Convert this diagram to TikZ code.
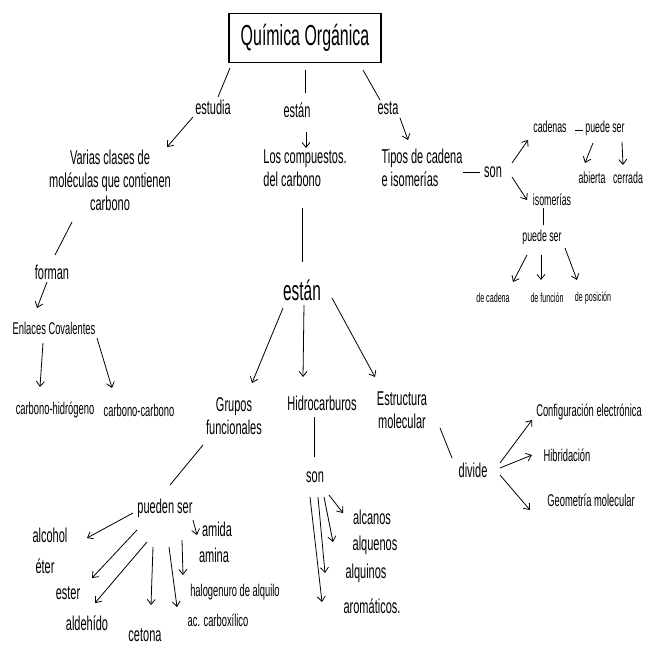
\documentclass[tikz,border=0pt]{standalone}
\usepackage{fontspec}
\setmainfont[FakeStretch=0.55]{Liberation Sans}
\usetikzlibrary{arrows.meta,calc}
\tikzset{
  lab/.style={inner sep=1pt, align=center, font=\fontsize{20}{23}\selectfont},
  sml/.style={inner sep=1pt, align=center, font=\fontsize{16}{18}\selectfont},
  tny/.style={inner sep=1pt, align=center, font=\fontsize{13}{15}\selectfont},
  mid/.style={inner sep=1pt, align=center, font=\fontsize{17}{20}\selectfont},
  big/.style={inner sep=1pt, font=\fontsize{28}{32}\selectfont},
  ttl/.style={draw, line width=1.1pt, minimum width=152pt, minimum height=49pt, inner sep=0pt, font=\fontsize{29}{33}\selectfont},
  ln/.style={line width=0.8pt},
  arr/.style={line width=0.8pt, -{Straight Barb[length=5pt,width=8pt]}}
}
\begin{document}
\begin{tikzpicture}[x=1pt,y=-1pt]
\useasboundingbox[fill=white] (0,0) rectangle (648,647);
% nodes
\node[ttl] (title) at (305,38) {Química Orgánica};
\node[lab] (estudia) at (213,107) {estudia};
\node[lab] (varias) at (110,180) {Varias clases de\\moléculas que contienen\\carbono};
\node[lab] (estan1) at (297,110) {están};
\node[lab, align=left] (comp) at (305,168) {Los compuestos.\\del carbono};
\node[lab] (esta) at (388,108) {esta};
\node[lab, align=left] (tipos) at (422,168) {Tipos de cadena\\e isomerías};
\node[lab] (son1) at (493,172) {son};
\node[sml] (cadenas) at (550,127) {cadenas};
\node[sml] (puede1) at (605,128) {puede ser};
\node[sml] (abierta) at (592,178) {abierta};
\node[sml] (cerrada) at (628,178) {cerrada};
\node[sml] (isomerias) at (552,200) {isomerías};
\node[sml] (puede2) at (542,237) {puede ser};
\node[tny] (decadena) at (493,298) {de cadena};
\node[tny] (defuncion) at (547,298) {de función};
\node[tny] (deposicion) at (593,298) {de posición};
\node[lab] (forman) at (52,272) {forman};
\node[mid] (enlaces) at (54,328) {Enlaces Covalentes};
\node[mid] (ch) at (55,410) {carbono-hidrógeno};
\node[mid] (cc) at (139,410) {carbono-carbono};
\node[big] (estan2) at (302,290) {están};
\node[lab] (grupos) at (234,416) {Grupos\\funcionales};
\node[lab] (hidro) at (322,403) {Hidrocarburos};
\node[lab] (estruct) at (402,410) {Estructura\\molecular};
\node[lab] (son2) at (315,477) {son};
\node[lab] (divide) at (473,470) {divide};
\node[mid] (config) at (589,412) {Configuración electrónica};
\node[mid] (hibrid) at (567,455) {Hibridación};
\node[mid] (geom) at (591,500) {Geometría molecular};
\node[lab] (pueden) at (165,508) {pueden ser};
\node[lab] (alcohol) at (50,535) {alcohol};
\node[lab] (eter) at (45,566) {éter};
\node[lab] (ester) at (68,593) {ester};
\node[lab] (aldehido) at (87,623) {aldehído};
\node[lab] (cetona) at (145,635) {cetona};
\node[mid] (acc) at (218,620) {ac. carboxílico};
\node[mid] (halo) at (235,592) {halogenuro de alquilo};
\node[lab] (amida) at (217,529) {amida};
\node[lab] (amina) at (214,555) {amina};
\node[lab] (alcanos) at (372,517) {alcanos};
\node[lab] (alquenos) at (375,545) {alquenos};
\node[lab] (alquinos) at (366,573) {alquinos};
\node[lab] (aromaticos) at (372,606) {aromáticos.};
% connectors
\draw[ln] ($(title)+(-75,30)$) -- ($(estudia)+(5,-10)$);
\draw[arr] ($(estudia)+(-20,10)$) -- ($(varias)+(57,-33)$);
\draw[ln] ($(title)+(0,32)$) -- ($(estan1)+(8,-17)$);
\draw[arr] ($(estan1)+(9,22)$) -- ($(comp)+(1,-20)$);
\draw[ln] ($(comp)+(-3,40)$) -- ($(estan2)+(0,-28)$);
\draw[ln] ($(title)+(58,32)$) -- ($(esta)+(-8,-8)$);
\draw[arr] ($(esta)+(12,10)$) -- ($(tipos)+(-14,-28)$);
\draw[ln] ($(tipos)+(41,4)$) -- ($(son1)+(-13,0)$);
\draw[arr] ($(son1)+(19,-9)$) -- ($(cadenas)+(-22,13)$);
\draw[ln] ($(cadenas)+(25,3)$) -- ($(puede1)+(-22,2)$);
\draw[arr] ($(puede1)+(-12,15)$) -- ($(abierta)+(-7,-15)$);
\draw[arr] ($(puede1)+(17,14)$) -- ($(cerrada)+(-5,-13)$);
\draw[arr] ($(son1)+(19,5)$) -- ($(isomerias)+(-25,0)$);
\draw[ln] ($(isomerias)+(-9,8)$) -- ($(puede2)+(1,-12)$);
\draw[arr] ($(puede2)+(-15,18)$) -- ($(decadena)+(20,-16)$);
\draw[arr] ($(puede2)+(-1,18)$) -- ($(defuncion)+(-6,-18)$);
\draw[arr] ($(puede2)+(23,11)$) -- ($(deposicion)+(-16,-18)$);
\draw[ln] ($(varias)+(-38,42)$) -- ($(forman)+(3,-17)$);
\draw[arr] ($(forman)+(-5,10)$) -- ($(enlaces)+(-17,-20)$);
\draw[arr] ($(enlaces)+(-11,15)$) -- ($(ch)+(-15,-23)$);
\draw[arr] ($(enlaces)+(43,10)$) -- ($(cc)+(-27,-22)$);
\draw[arr] ($(estan2)+(-19,18)$) -- ($(grupos)+(18,-33)$);
\draw[arr] ($(estan2)+(2,15)$) -- ($(hidro)+(-19,-26)$);
\draw[arr] ($(estan2)+(30,8)$) -- ($(estruct)+(-27,-33)$);
\draw[ln] ($(hidro)+(-8,14)$) -- ($(son2)+(-1,-20)$);
\draw[ln] ($(estruct)+(38,18)$) -- ($(divide)+(-21,-12)$);
\draw[arr] ($(divide)+(27,-7)$) -- ($(config)+(-57,8)$);
\draw[arr] ($(divide)+(27,-2)$) -- ($(hibrid)+(-35,0)$);
\draw[arr] ($(divide)+(27,5)$) -- ($(geom)+(-61,10)$);
\draw[ln] ($(grupos)+(-31,29)$) -- ($(pueden)+(5,-23)$);
\draw[arr] ($(pueden)+(-32,5)$) -- ($(alcohol)+(37,3)$);
\draw[arr] ($(pueden)+(-28,22)$) -- ($(ester)+(24,-15)$);
\draw[arr] ($(pueden)+(-18,34)$) -- ($(aldehido)+(8,-20)$);
\draw[arr] ($(pueden)+(-12,39)$) -- ($(cetona)+(6,-30)$);
\draw[arr] ($(pueden)+(4,39)$) -- ($(acc)+(-41,-13)$);
\draw[arr] ($(pueden)+(17,32)$) -- ($(halo)+(-52,-17)$);
\draw[arr] ($(pueden)+(28,12)$) -- ($(amida)+(-20,6)$);
\draw[arr] ($(son2)+(-5,20)$) -- ($(aromaticos)+(-50,-4)$);
\draw[arr] ($(son2)+(3,20)$) -- ($(alquinos)+(-41,0)$);
\draw[arr] ($(son2)+(9,20)$) -- ($(alquenos)+(-42,-3)$);
\draw[arr] ($(son2)+(14,18)$) -- ($(alcanos)+(-29,-4)$);
\end{tikzpicture}
\end{document}
